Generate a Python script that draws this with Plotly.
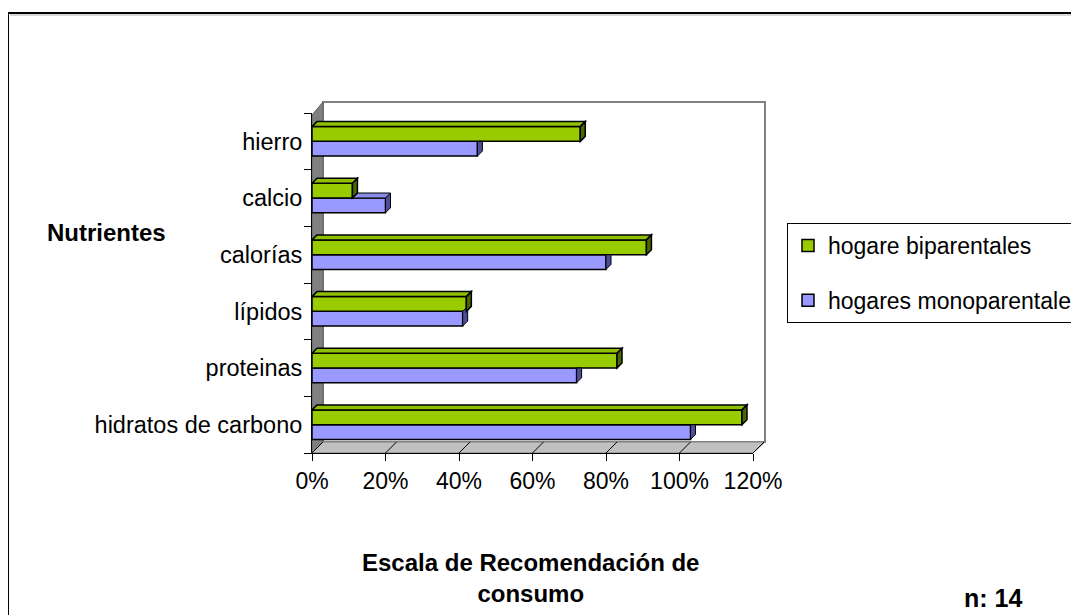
import plotly.graph_objects as go

# ---- data ----
categories = ["hidratos de carbono", "proteinas", "lípidos", "calorías", "calcio", "hierro"]
biparentales = [1.17, 0.83, 0.42, 0.91, 0.11, 0.73]
monoparentales = [1.03, 0.72, 0.41, 0.80, 0.20, 0.45]
series_names = ["hogare biparentales", "hogares monoparentales"]
x_ticks = [0, 0.2, 0.4, 0.6, 0.8, 1.0, 1.2]

# ---- layout constants (pixels in the target picture) ----
OFF = 8                       # page body margin
W, H = 1079, 615
FW, FH = W - OFF, H - OFF     # figure size
FX0, FX1, FY0, FY1 = 312, 753, 113, 453      # front plane
DX, DY = 11, 11                               # depth offset
BX0, BX1, BY0, BY1 = FX0 + DX, FX1 + DX + 1, FY0 - DY, FY1 - DY  # back wall
XMAX = 1.2
GREEN, BLUE = "#99CC00", "#9999FF"
GREEN_SIDE, BLUE_SIDE = "#4D6600", "#4D4D99"
GREEN_TOP, BLUE_TOP = "#8FC000", "#8A8AE8"
BARGAP = 0.48
FONT = "Liberation Sans, Arial, sans-serif"
REG = 23
BOLD = 24


def px(x):
    return (x - OFF) / FW


def py(y):
    return 1 - (y - OFF) / FH


fig = go.Figure()
fig.add_trace(go.Bar(y=categories, x=monoparentales, orientation="h", name=series_names[1],
                     marker=dict(color=BLUE, line=dict(color="black", width=1.5)),
                     legendgroup="m", legendrank=2))
fig.add_trace(go.Bar(y=categories, x=biparentales, orientation="h", name=series_names[0],
                     marker=dict(color=GREEN, line=dict(color="black", width=1.5)),
                     legendgroup="b", legendrank=1))

shapes = []
# chart-area border (with light shadow under the top edge)
shapes.append(dict(type="rect", xref="paper", yref="paper", x0=px(8), x1=px(W + 20),
                   y0=py(H + 20), y1=py(13), line=dict(color="black", width=2),
                   fillcolor="white", layer="below"))
shapes.append(dict(type="line", xref="paper", yref="paper", x0=px(10), x1=px(W + 20),
                   y0=py(15), y1=py(15), line=dict(color="#B0B0B0", width=1), layer="below"))
# back wall
shapes.append(dict(type="rect", xref="paper", yref="paper", x0=px(BX0), x1=px(BX1),
                   y0=py(BY1), y1=py(BY0), line=dict(color="#808080", width=2),
                   fillcolor="white", layer="below"))
# side wall
shapes.append(dict(type="path", xref="paper", yref="paper",
                   path=f"M{px(FX0)},{py(FY0 + 2)} L{px(BX0)},{py(BY0)} L{px(BX0)},{py(BY1)} L{px(FX0)},{py(FY1)} Z",
                   fillcolor="#808080", line=dict(color="#606060", width=1), layer="below"))
# floor
shapes.append(dict(type="path", xref="paper", yref="paper",
                   path=f"M{px(FX0)},{py(FY1)} L{px(BX0)},{py(BY1)} L{px(BX1)},{py(BY1)} L{px(FX1)},{py(FY1)} Z",
                   fillcolor="#C0C0C0", line=dict(color="#808080", width=1), layer="below"))
# floor diagonals at each tick
for t in x_ticks:
    fx = FX0 + (FX1 - FX0) * t / XMAX
    bx = BX0 + (BX1 - 1 - BX0) * t / XMAX
    shapes.append(dict(type="line", xref="paper", yref="paper", x0=px(fx), y0=py(FY1),
                       x1=px(bx), y1=py(BY1), line=dict(color="black", width=1), layer="below"))

# 3D faces of bars (computed from data)
dxu = 5 * XMAX / (FX1 - FX0)
dyu = 5 * len(categories) / (FY1 - FY0)
w = (1 - BARGAP) / 2
for i, cat in enumerate(categories):
    vb, vg = monoparentales[i], biparentales[i]
    yb0 = i - 0.5 + BARGAP / 2
    yb1 = yb0 + w
    yg0, yg1 = yb1, yb1 + w
    # blue side face
    top = yb1 if vg > vb + dxu else yb1 + dyu
    shapes.append(dict(type="path", xref="x", yref="y",
                       path=f"M{vb},{yb0} L{vb},{yb1} L{vb + dxu},{top} L{vb + dxu},{yb0 + dyu} Z",
                       fillcolor=BLUE_SIDE, line=dict(color="black", width=1)))
    if vb > vg:
        shapes.append(dict(type="path", xref="x", yref="y",
                           path=f"M{vg},{yb1} L{vg + dxu},{yb1 + dyu} L{vb + dxu},{yb1 + dyu} L{vb},{yb1} Z",
                           fillcolor=BLUE_TOP, line=dict(color="black", width=1)))
    # green top + side
    shapes.append(dict(type="path", xref="x", yref="y",
                       path=f"M0,{yg1} L{dxu},{yg1 + dyu} L{vg + dxu},{yg1 + dyu} L{vg},{yg1} Z",
                       fillcolor=GREEN_TOP, line=dict(color="black", width=1.5)))
    shapes.append(dict(type="path", xref="x", yref="y",
                       path=f"M{vg},{yg0} L{vg},{yg1} L{vg + dxu},{yg1 + dyu} L{vg + dxu},{yg0 + dyu} Z",
                       fillcolor=GREEN_SIDE, line=dict(color="black", width=1.5)))

annotations = [
    dict(text="<b>Nutrientes</b>", xref="paper", yref="paper", x=px(106), y=py(232),
         xanchor="center", yanchor="middle",
         showarrow=False, font=dict(size=BOLD, family=FONT, color="black")),
    dict(text="<b>Escala de Recomendación de</b><br><b>consumo</b>", xref="paper", yref="paper",
         x=px(530), y=py(578), xanchor="center", yanchor="middle",
         showarrow=False, align="center",
         font=dict(size=BOLD, family=FONT, color="black")),
    dict(text="<b>n: 14</b>", xref="paper", yref="paper", x=px(993), y=py(598),
         xanchor="center", yanchor="middle",
         showarrow=False, font=dict(size=BOLD + 1, family=FONT, color="black")),
]

fig.update_layout(
    width=FW, height=FH,
    margin=dict(l=0, r=0, t=0, b=0, autoexpand=False),
    paper_bgcolor="white", plot_bgcolor="rgba(0,0,0,0)",
    barmode="group", bargap=BARGAP, bargroupgap=0,
    font=dict(family=FONT, size=REG, color="black"),
    showlegend=True,
    legend=dict(x=px(787), y=py(223), xanchor="left", yanchor="top",
                bgcolor="white", bordercolor="black", borderwidth=1,
                font=dict(size=REG, family=FONT), traceorder="grouped", tracegroupgap=22),
    xaxis=dict(domain=[px(FX0), px(FX1)], range=[0, XMAX], anchor="y",
               tickvals=x_ticks, tickformat=".0%", showgrid=False, zeroline=False,
               showline=True, linecolor="black", linewidth=1, ticks="outside",
               ticklen=7, tickcolor="black", tickfont=dict(size=REG)),
    yaxis=dict(domain=[py(FY1), py(FY0)], type="category", categoryorder="array",
               categoryarray=categories, range=[-0.5, len(categories) - 0.5], anchor="x",
               showgrid=False, zeroline=False, showline=True, linecolor="black", linewidth=1,
               ticks="outside", tickson="boundaries", ticklen=7, tickcolor="black",
               ticklabelstandoff=4, tickfont=dict(size=23.5)),
    xaxis2=dict(domain=[px(BX0), px(BX1 - 1)], range=[0, XMAX], anchor="y2",
                tickvals=x_ticks, showgrid=True, gridcolor="black", gridwidth=1,
                showticklabels=False, ticks="", showline=False, zeroline=False),
    yaxis2=dict(domain=[py(BY1), py(BY0)], range=[0, 1], anchor="x2",
                showgrid=False, showticklabels=False, zeroline=False, showline=False),
    shapes=shapes,
    annotations=annotations,
)

fig.write_html("out.html")
